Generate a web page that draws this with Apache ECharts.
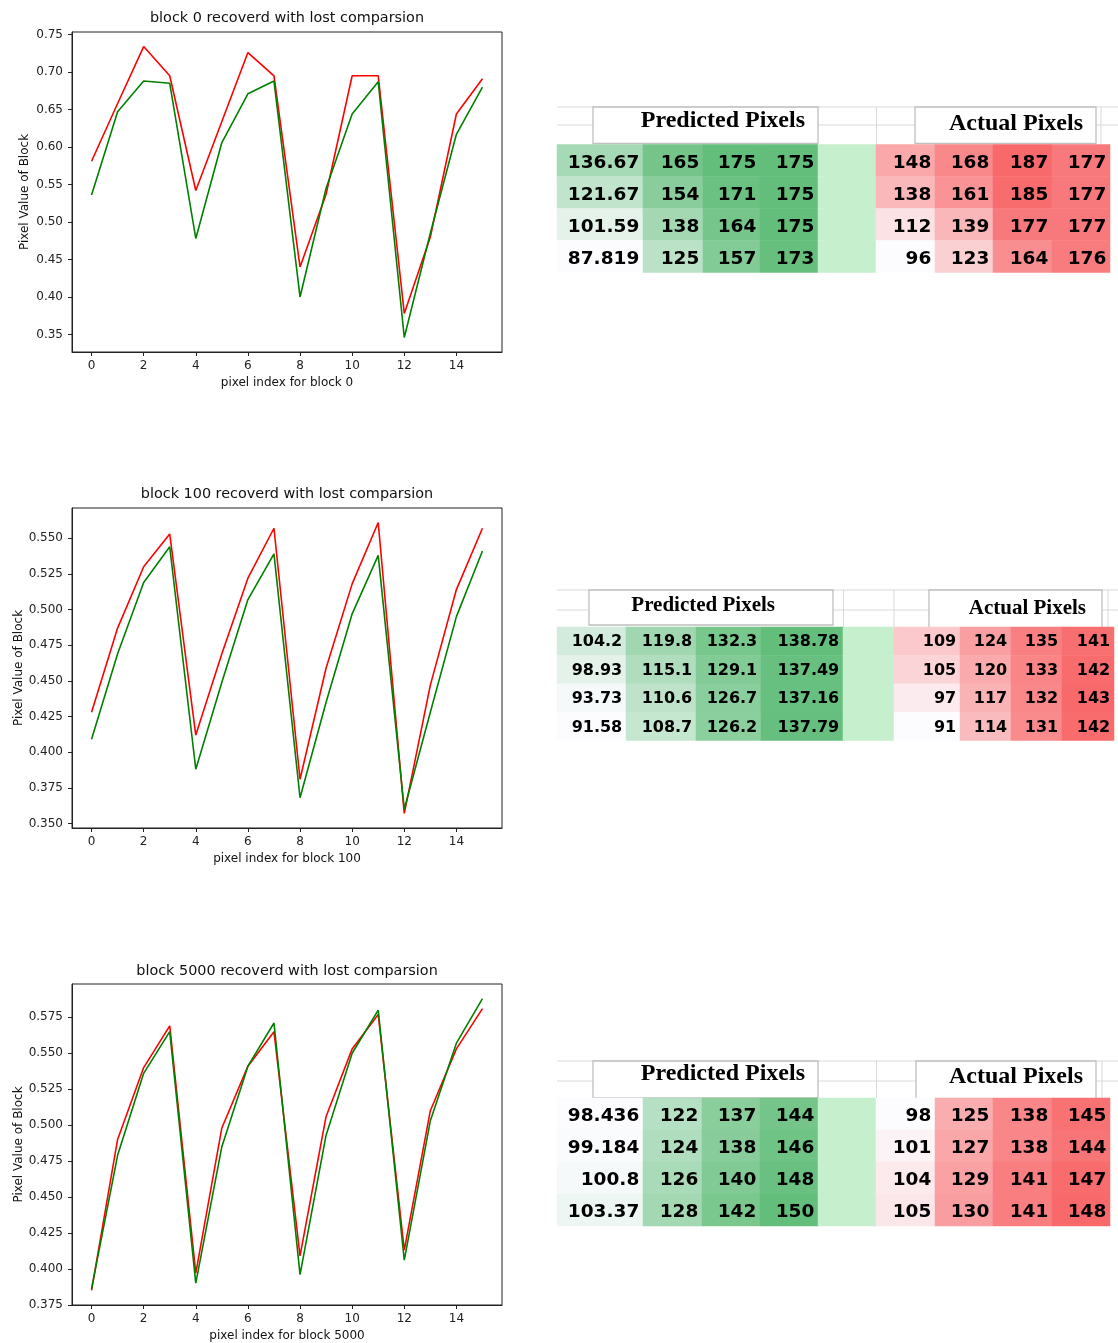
<!DOCTYPE html>
<html>
<head>
<meta charset="utf-8">
<title>Block recovery comparison</title>
<script src="https://cdn.jsdelivr.net/npm/echarts@6/dist/echarts.min.js"></script>
<style>
  html, body { margin: 0; padding: 0; background: #ffffff; }
  #chart { width: 1118px; height: 1343px; }
</style>
</head>
<body>
<div id="chart"></div>
<script>
// ---- line chart data: pixel values of each 4x4 block (16 pixels) ----
const pixelIndex = [0, 1, 2, 3, 4, 5, 6, 7, 8, 9, 10, 11, 12, 13, 14, 15];
const xTickValues = [0, 2, 4, 6, 8, 10, 12, 14];

const block0Red   = [0.581, 0.658, 0.734, 0.695, 0.542, 0.634, 0.726, 0.695, 0.440, 0.537, 0.695, 0.695, 0.378, 0.480, 0.644, 0.691];
const block0Green = [0.536, 0.647, 0.688, 0.685, 0.478, 0.606, 0.671, 0.688, 0.400, 0.545, 0.644, 0.687, 0.346, 0.485, 0.617, 0.680];
const block0YTicks = [0.35, 0.40, 0.45, 0.50, 0.55, 0.60, 0.65, 0.70, 0.75];

const block100Red   = [0.428, 0.487, 0.530, 0.553, 0.412, 0.469, 0.522, 0.557, 0.381, 0.459, 0.518, 0.561, 0.357, 0.447, 0.514, 0.557];
const block100Green = [0.409, 0.469, 0.519, 0.544, 0.388, 0.449, 0.507, 0.539, 0.368, 0.435, 0.497, 0.538, 0.360, 0.428, 0.495, 0.541];
const block100YTicks = [0.350, 0.375, 0.400, 0.425, 0.450, 0.475, 0.500, 0.525, 0.550];

const block5000Red   = [0.385, 0.490, 0.540, 0.569, 0.397, 0.498, 0.541, 0.565, 0.409, 0.506, 0.553, 0.577, 0.413, 0.510, 0.553, 0.581];
const block5000Green = [0.386, 0.479, 0.536, 0.565, 0.390, 0.485, 0.541, 0.571, 0.396, 0.493, 0.550, 0.580, 0.406, 0.503, 0.557, 0.588];
const block5000YTicks = [0.375, 0.400, 0.425, 0.450, 0.475, 0.500, 0.525, 0.550, 0.575];

// ---- table data: predicted vs actual 4x4 pixel values (rows top to bottom) ----
const predicted0 = [[136.67, 165, 175, 175], [121.67, 154, 171, 175], [101.59, 138, 164, 175], [87.819, 125, 157, 173]];
const actual0    = [[148, 168, 187, 177], [138, 161, 185, 177], [112, 139, 177, 177], [96, 123, 164, 176]];

const predicted100 = [[104.2, 119.8, 132.3, 138.78], [98.93, 115.1, 129.1, 137.49], [93.73, 110.6, 126.7, 137.16], [91.58, 108.7, 126.2, 137.79]];
const actual100    = [[109, 124, 135, 141], [105, 120, 133, 142], [97, 117, 132, 143], [91, 114, 131, 142]];

const predicted5000 = [[98.436, 122, 137, 144], [99.184, 124, 138, 146], [100.8, 126, 140, 148], [103.37, 128, 142, 150]];
const actual5000    = [[98, 125, 138, 145], [101, 127, 138, 144], [104, 129, 141, 147], [105, 130, 141, 148]];

// ---- layout ----
const FONT = 'DejaVu Sans';
const INK = '#222222';

const lineCharts = [
  { title: 'block 0 recoverd with lost comparsion', xName: 'pixel index for block 0',
    red: block0Red, green: block0Green, yTicks: block0YTicks, digits: 2,
    grid: { left: 72, top: 32, width: 430, height: 320 }, titleY: 18 },
  { title: 'block 100 recoverd with lost comparsion', xName: 'pixel index for block 100',
    red: block100Red, green: block100Green, yTicks: block100YTicks, digits: 3,
    grid: { left: 72, top: 508, width: 430, height: 320 }, titleY: 494 },
  { title: 'block 5000 recoverd with lost comparsion', xName: 'pixel index for block 5000',
    red: block5000Red, green: block5000Green, yTicks: block5000YTicks, digits: 3,
    grid: { left: 72, top: 984, width: 430, height: 321 }, titleY: 971 }
];

const tables = [
  { predicted: predicted0, actual: actual0, rowTop: 144.5, rowH: 32, font: 18.5, labelDy: 2.5,
    edges: [557, 643, 703, 760, 818, 876, 935, 993, 1052, 1110],
    header: { lineYs: [107, 125], vLines: [[876.5, 107, 144], [1101, 107, 144]], fontSize: 24,
      boxes: [ { x1: 593, x2: 818, y1: 107, y2: 143.5, text: 'Predicted Pixels', tx: 805, ty: 121 },
               { x1: 915, x2: 1096, y1: 107, y2: 143.5, text: 'Actual Pixels', tx: 1083, ty: 124 } ] } },
  { predicted: predicted100, actual: actual100, rowTop: 627, rowH: 28.4, font: 16, labelDy: 1,
    edges: [557, 626, 696, 761, 843, 894, 960, 1011, 1062, 1114],
    header: { lineYs: [590, 610], vLines: [[843.5, 590, 627], [894, 590, 627], [1108, 590, 627]], fontSize: 21,
      boxes: [ { x1: 589, x2: 833, y1: 590, y2: 625, text: 'Predicted Pixels', tx: 775, ty: 606 },
               { x1: 929, x2: 1102, y1: 590, y2: 628, text: 'Actual Pixels', tx: 1086, ty: 609 } ] } },
  { predicted: predicted5000, actual: actual5000, rowTop: 1098, rowH: 32, font: 18.5, labelDy: 2,
    edges: [557, 643, 702, 760, 818, 876, 935, 993, 1052, 1110],
    header: { lineYs: [1061, 1081], vLines: [[876.5, 1061, 1098], [1102, 1061, 1098]], fontSize: 24,
      boxes: [ { x1: 593, x2: 818, y1: 1061, y2: 1098, text: 'Predicted Pixels', tx: 805, ty: 1074 },
               { x1: 916, x2: 1096, y1: 1061, y2: 1100, text: 'Actual Pixels', tx: 1083, ty: 1077 } ] } }
];

const GREEN_SCALE = ['#FCFCFF', '#63BE7B'];
const RED_SCALE = ['#FCFCFF', '#F8696B'];
const BLANK_FILL = '#C6EFCE';
const GRIDLINE = '#d9d9d9';
const BOX_LINE = '#bfbfbf';

const grids = [], xAxes = [], yAxes = [], series = [], visualMaps = [], graphics = [];

// ---- line charts ----
lineCharts.forEach(function (c, i) {
  grids.push(Object.assign({ show: true, borderColor: INK, borderWidth: 1, backgroundColor: 'transparent' }, c.grid));
  xAxes.push({
    type: 'value', gridIndex: i, min: -0.75, max: 15.75,
    name: c.xName, nameLocation: 'middle', nameGap: 25,
    nameTextStyle: { fontFamily: FONT, fontSize: 12, color: '#111' },
    axisLine: { show: true, onZero: false, lineStyle: { color: INK, width: 1 } },
    axisTick: { show: true, inside: false, length: 4, customValues: xTickValues, lineStyle: { color: INK } },
    axisLabel: { customValues: xTickValues, fontFamily: FONT, fontSize: 12, color: INK, margin: 8 },
    splitLine: { show: false }
  });
  yAxes.push({
    type: 'value', gridIndex: i,
    min: function (v) { return v.min - (v.max - v.min) * 0.05; },
    max: function (v) { return v.max + (v.max - v.min) * 0.05; },
    name: 'Pixel Value of Block', nameLocation: 'middle', nameGap: 41, nameRotate: 90,
    nameTextStyle: { fontFamily: FONT, fontSize: 12, color: '#111' },
    axisLine: { show: true, onZero: false, lineStyle: { color: INK, width: 1 } },
    axisTick: { show: true, inside: false, length: 4, customValues: c.yTicks, lineStyle: { color: INK } },
    axisLabel: { customValues: c.yTicks, fontFamily: FONT, fontSize: 12, color: INK, margin: 9,
      formatter: function (v) { return Number(v).toFixed(c.digits); } },
    splitLine: { show: false }
  });
  [[c.red, '#ff0000'], [c.green, '#008000']].forEach(function (pair) {
    series.push({
      type: 'line', xAxisIndex: i, yAxisIndex: i, showSymbol: false, symbol: 'none',
      data: pixelIndex.map(function (x, k) { return [x, pair[0][k]]; }),
      lineStyle: { color: pair[1], width: 1.6 }, itemStyle: { color: pair[1] },
      emphasis: { disabled: true }, silent: true, z: 3
    });
  });
  graphics.push({
    type: 'text', x: c.grid.left + c.grid.width / 2, y: c.titleY, silent: true,
    style: { text: c.title, font: '14.4px "' + FONT + '"', fill: '#111', align: 'center', verticalAlign: 'middle' }
  });
});

// ---- pixel tables (each column is its own grid so widths can differ) ----
const rowNames = ['r1', 'r2', 'r3', 'r4'];
tables.forEach(function (t) {
  const predictedSeries = [], actualSeries = [];
  for (let col = 0; col < 9; col++) {
    const gi = grids.length;
    grids.push({ left: t.edges[col], top: t.rowTop, width: t.edges[col + 1] - t.edges[col], height: t.rowH * 4, show: false });
    xAxes.push({ type: 'category', gridIndex: gi, data: ['c'], show: false });
    yAxes.push({ type: 'category', gridIndex: gi, data: rowNames, inverse: true, show: false });
    let block = null, srcCol = 0;
    if (col < 4) { block = t.predicted; srcCol = col; }
    else if (col > 4) { block = t.actual; srcCol = col - 5; }
    if (block) {
      (col < 4 ? predictedSeries : actualSeries).push(series.length);
      series.push({
        type: 'heatmap', xAxisIndex: gi, yAxisIndex: gi,
        data: block.map(function (row, r) { return [0, r, row[srcCol]]; }),
        label: { show: true, position: 'insideRight', distance: 4, offset: [0, t.labelDy], color: '#000',
          fontFamily: FONT, fontWeight: 'bold', fontSize: t.font,
          formatter: function (p) { return String(p.value[2]); } },
        itemStyle: { borderWidth: 0 }, emphasis: { disabled: true }, silent: true
      });
    } else {
      series.push({
        type: 'heatmap', xAxisIndex: gi, yAxisIndex: gi,
        data: rowNames.map(function (n, r) { return [0, r, 0]; }),
        label: { show: false }, itemStyle: { color: BLANK_FILL, borderWidth: 0 },
        emphasis: { disabled: true }, silent: true
      });
    }
  }
  const flatP = [].concat.apply([], t.predicted), flatA = [].concat.apply([], t.actual);
  visualMaps.push({ type: 'continuous', show: false, dimension: 2, seriesIndex: predictedSeries,
    min: Math.min.apply(null, flatP), max: Math.max.apply(null, flatP), inRange: { color: GREEN_SCALE } });
  visualMaps.push({ type: 'continuous', show: false, dimension: 2, seriesIndex: actualSeries,
    min: Math.min.apply(null, flatA), max: Math.max.apply(null, flatA), inRange: { color: RED_SCALE } });

  // spreadsheet header strip: gridlines, merged title cells
  const h = t.header;
  h.lineYs.forEach(function (y) {
    graphics.push({ type: 'line', silent: true, z: 1,
      shape: { x1: t.edges[0], y1: y, x2: 1118, y2: y }, style: { stroke: GRIDLINE, lineWidth: 1 } });
  });
  h.vLines.forEach(function (v) {
    graphics.push({ type: 'line', silent: true, z: 1,
      shape: { x1: v[0], y1: v[1], x2: v[0], y2: v[2] }, style: { stroke: GRIDLINE, lineWidth: 1 } });
  });
  h.boxes.forEach(function (b) {
    graphics.push({ type: 'rect', silent: true, z: 2,
      shape: { x: b.x1, y: b.y1, width: b.x2 - b.x1, height: b.y2 - b.y1 },
      style: { fill: '#ffffff', stroke: BOX_LINE, lineWidth: 1.3 } });
    graphics.push({ type: 'text', silent: true, z: 3, x: b.tx, y: b.ty,
      style: { text: b.text, font: 'bold ' + h.fontSize + 'px "Liberation Serif"', fill: '#000',
        align: 'right', verticalAlign: 'middle' } });
  });
});

const chart = echarts.init(document.getElementById('chart'), null, { renderer: 'canvas' });
chart.setOption({
  animation: false,
  backgroundColor: '#ffffff',
  grid: grids,
  xAxis: xAxes,
  yAxis: yAxes,
  visualMap: visualMaps,
  series: series,
  graphic: graphics
});
</script>
</body>
</html>
